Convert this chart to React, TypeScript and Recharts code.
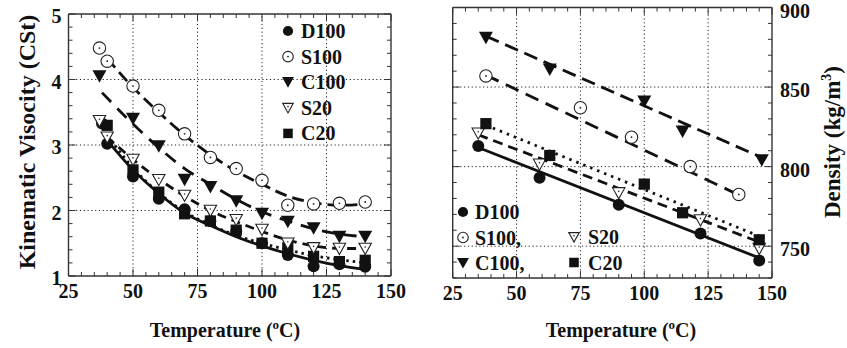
import React from 'react';
import { ComposedChart, Line, Scatter, XAxis, YAxis, ReferenceLine } from 'recharts';

const FONT = '"Liberation Serif", "Times New Roman", serif';
const INK = '#111';

// ---------- tick labels ----------
const tempTicks = [25, 50, 75, 100, 125, 150];
const viscTicks = [1, 2, 3, 4, 5];
const densTicks = [750, 800, 850, 900];
const tempGrid = [50, 75, 100, 125];
const viscGrid = [2, 3, 4];
const densGrid = [750, 800, 850];

const range = (a: number, b: number, s: number) => {
  const out: number[] = [];
  for (let v = a; v <= b + 1e-9; v += s) out.push(Math.round(v * 1000) / 1000);
  return out;
};
const tempMinor = range(25, 150, 5);
const viscMinor = range(1, 5, 0.2);
const densMinor = range(730, 900, 10);

// ---------- left panel: kinematic viscosity (points) ----------
const viscD100 = [
  { t: 38, v: 3.33 }, { t: 40, v: 3.02 }, { t: 50, v: 2.52 }, { t: 60, v: 2.18 }, { t: 70, v: 2.02 },
  { t: 80, v: 1.84 }, { t: 90, v: 1.68 }, { t: 100, v: 1.5 }, { t: 110, v: 1.32 }, { t: 120, v: 1.15 },
  { t: 130, v: 1.18 }, { t: 140, v: 1.14 },
];
const viscS100 = [
  { t: 37, v: 4.48 }, { t: 40, v: 4.28 }, { t: 50, v: 3.9 }, { t: 60, v: 3.53 }, { t: 70, v: 3.17 },
  { t: 80, v: 2.81 }, { t: 90, v: 2.64 }, { t: 100, v: 2.46 }, { t: 110, v: 2.08 }, { t: 120, v: 2.1 },
  { t: 130, v: 2.11 }, { t: 140, v: 2.13 },
];
const viscC100 = [
  { t: 37, v: 4.05 }, { t: 50, v: 3.4 }, { t: 60, v: 2.98 }, { t: 70, v: 2.47 }, { t: 80, v: 2.36 },
  { t: 90, v: 2.14 }, { t: 100, v: 1.95 }, { t: 110, v: 1.83 }, { t: 120, v: 1.73 }, { t: 130, v: 1.6 },
  { t: 140, v: 1.6 },
];
const viscS20 = [
  { t: 37, v: 3.37 }, { t: 40, v: 3.12 }, { t: 50, v: 2.78 }, { t: 60, v: 2.47 }, { t: 70, v: 2.23 },
  { t: 80, v: 2.0 }, { t: 90, v: 1.86 }, { t: 100, v: 1.71 }, { t: 110, v: 1.5 }, { t: 120, v: 1.43 },
  { t: 130, v: 1.42 }, { t: 140, v: 1.42 },
];
const viscC20 = [
  { t: 40, v: 3.3 }, { t: 50, v: 2.62 }, { t: 60, v: 2.28 }, { t: 70, v: 1.95 }, { t: 80, v: 1.84 },
  { t: 90, v: 1.7 }, { t: 100, v: 1.5 }, { t: 110, v: 1.43 }, { t: 120, v: 1.3 }, { t: 130, v: 1.22 },
  { t: 140, v: 1.24 },
];

// ---------- left panel: fitted curves ----------
const viscFitD100 = [
  { t: 40, v: 3.07 }, { t: 50, v: 2.62 }, { t: 60, v: 2.26 }, { t: 70, v: 1.96 }, { t: 80, v: 1.77 },
  { t: 90, v: 1.6 }, { t: 100, v: 1.46 }, { t: 110, v: 1.34 }, { t: 120, v: 1.24 }, { t: 130, v: 1.16 },
  { t: 140, v: 1.1 },
];
const viscFitS100 = [
  { t: 40, v: 4.32 }, { t: 50, v: 3.88 }, { t: 60, v: 3.5 }, { t: 70, v: 3.15 }, { t: 80, v: 2.85 },
  { t: 90, v: 2.6 }, { t: 100, v: 2.4 }, { t: 110, v: 2.22 }, { t: 120, v: 2.12 }, { t: 130, v: 2.08 },
  { t: 140, v: 2.1 },
];
const viscFitC100 = [
  { t: 38, v: 3.8 }, { t: 50, v: 3.32 }, { t: 60, v: 2.96 }, { t: 70, v: 2.64 }, { t: 80, v: 2.4 },
  { t: 90, v: 2.17 }, { t: 100, v: 1.98 }, { t: 110, v: 1.84 }, { t: 120, v: 1.72 }, { t: 130, v: 1.64 },
  { t: 140, v: 1.6 },
];
const viscFitS20 = [
  { t: 40, v: 3.12 }, { t: 50, v: 2.78 }, { t: 60, v: 2.48 }, { t: 70, v: 2.22 }, { t: 80, v: 2.0 },
  { t: 90, v: 1.83 }, { t: 100, v: 1.68 }, { t: 110, v: 1.55 }, { t: 120, v: 1.46 }, { t: 130, v: 1.42 },
  { t: 140, v: 1.42 },
];
const viscFitC20 = [
  { t: 40, v: 3.15 }, { t: 50, v: 2.65 }, { t: 60, v: 2.27 }, { t: 70, v: 1.98 }, { t: 80, v: 1.78 },
  { t: 90, v: 1.62 }, { t: 100, v: 1.5 }, { t: 110, v: 1.4 }, { t: 120, v: 1.31 }, { t: 130, v: 1.25 },
  { t: 140, v: 1.2 },
];

// ---------- right panel: density (points) ----------
const densD100 = [{ t: 35, v: 813 }, { t: 59, v: 793 }, { t: 90, v: 776 }, { t: 122, v: 758 }, { t: 145, v: 741 }];
const densS100 = [{ t: 38, v: 857 }, { t: 75, v: 837 }, { t: 95, v: 818.5 }, { t: 118, v: 800 }, { t: 137, v: 782.5 }];
const densC100 = [{ t: 38, v: 881 }, { t: 63, v: 861 }, { t: 100, v: 841 }, { t: 115, v: 822 }, { t: 146, v: 804 }];
const densS20 = [{ t: 35, v: 821 }, { t: 59, v: 801.5 }, { t: 90, v: 783.5 }, { t: 122, v: 766.5 }, { t: 145, v: 748.5 }];
const densC20 = [{ t: 38, v: 827 }, { t: 63, v: 807 }, { t: 100, v: 789 }, { t: 115, v: 771 }, { t: 145, v: 754 }];

// ---------- right panel: fitted lines ----------
const densFitD100 = [{ t: 35, v: 812 }, { t: 146, v: 742 }];
const densFitS100 = [{ t: 38, v: 857.5 }, { t: 136, v: 783 }];
const densFitC100 = [{ t: 38, v: 882 }, { t: 147, v: 805 }];
const densFitS20 = [{ t: 35, v: 820 }, { t: 146, v: 752 }];
const densFitC20 = [{ t: 38, v: 826 }, { t: 147, v: 755 }];

// ---------- legends ----------
const leftLegend = [
  { kind: 'fc', label: 'D100' },
  { kind: 'oc', label: 'S100' },
  { kind: 'ft', label: 'C100' },
  { kind: 'ot', label: 'S20' },
  { kind: 'fs', label: 'C20' },
];
const rightLegendCol1 = [
  { kind: 'fc', label: 'D100' },
  { kind: 'oc', label: 'S100,' },
  { kind: 'ft', label: 'C100,' },
];
const rightLegendCol2 = [
  { kind: 'ot', label: 'S20' },
  { kind: 'fs', label: 'C20' },
];

function Marker({ kind, cx, cy, s = 1 }: { kind: string; cx: number; cy: number; s?: number }) {
  if (cx == null || cy == null) return null;
  switch (kind) {
    case 'fc':
      return <circle cx={cx} cy={cy} r={6 * s} fill={INK} />;
    case 'oc':
      return (
        <g>
          <circle cx={cx} cy={cy} r={6.2 * s} fill="#fff" stroke="#222" strokeWidth={1.1} />
          <circle cx={cx} cy={cy} r={0.9} fill="#222" />
        </g>
      );
    case 'ft':
      return (
        <polygon
          points={`${cx - 7 * s},${cy - 6 * s} ${cx + 7 * s},${cy - 6 * s} ${cx},${cy + 6.5 * s}`}
          fill={INK}
        />
      );
    case 'ot':
      return (
        <g>
          <polygon
            points={`${cx - 6.2 * s},${cy - 5.2 * s} ${cx + 6.2 * s},${cy - 5.2 * s} ${cx},${cy + 6 * s}`}
            fill="#fff"
            stroke="#222"
            strokeWidth={1.1}
          />
          <circle cx={cx} cy={cy - 1.5 * s} r={0.8} fill="#222" />
        </g>
      );
    case 'fs':
      return <rect x={cx - 5.6 * s} y={cy - 5.6 * s} width={11.2 * s} height={11.2 * s} fill={INK} />;
    default:
      return null;
  }
}

const shapeOf = (kind: string) => (p: any) => <Marker kind={kind} cx={p.cx} cy={p.cy} />;

const isIn = (arr: number[], v: number) => arr.some((m) => Math.abs(m - v) < 1e-6);

const tickText = { fontFamily: FONT, fontWeight: 700, fontSize: 20 } as const;

function makeTick(side: 'bottom' | 'top' | 'left' | 'right', majors: number[], showLabel: boolean) {
  return (props: any) => {
    const { x, y, payload } = props;
    const v = payload.value;
    const major = isIn(majors, v);
    const len = major ? 7 : 4;
    let line = null;
    let label = null;
    if (side === 'bottom') {
      line = <line x1={x} y1={y} x2={x} y2={y - len} stroke="#333" strokeWidth={1} />;
      if (showLabel && major)
        label = (
          <text x={x} y={y + 22} textAnchor="middle" style={tickText} fill={INK}>
            {v}
          </text>
        );
    } else if (side === 'top') {
      line = <line x1={x} y1={y} x2={x} y2={y + len} stroke="#333" strokeWidth={1} />;
    } else if (side === 'left') {
      line = <line x1={x} y1={y} x2={x + len} y2={y} stroke="#333" strokeWidth={1} />;
      if (showLabel && major)
        label = (
          <text x={x - 7} y={y + 9} textAnchor="end" style={tickText} fill={INK}>
            {v}
          </text>
        );
    } else {
      line = <line x1={x} y1={y} x2={x - len} y2={y} stroke="#333" strokeWidth={1} />;
      if (showLabel && major)
        label = (
          <text x={x + 8} y={y + 10} textAnchor="start" style={tickText} fill={INK}>
            {v}
          </text>
        );
    }
    return (
      <g>
        {line}
        {label}
      </g>
    );
  };
}

const axisLine = { stroke: '#333', strokeWidth: 1.4 };
const gridStroke = { stroke: '#222', strokeWidth: 1, strokeDasharray: '1.2 2.6' };

export default function App() {
  const LW = 2.8;
  return (
    <div style={{ position: 'absolute', left: 0, top: 0, width: 847, height: 348, background: '#fff', fontFamily: FONT }}>
      {/* Left panel */}
      <div style={{ position: 'absolute', left: 0, top: 0 }}>
        <ComposedChart width={420} height={348} margin={{ top: 13, right: 28, bottom: 71, left: 67.5 }}>
          <XAxis xAxisId="b" dataKey="t" type="number" domain={[25, 150]} allowDataOverflow ticks={tempMinor} interval={0}
            orientation="bottom" height={1} tickSize={0} tickMargin={0} tickLine={false} axisLine={axisLine}
            tick={makeTick('bottom', tempTicks, true)} />
          <XAxis xAxisId="t" dataKey="t" type="number" domain={[25, 150]} allowDataOverflow ticks={tempMinor} interval={0}
            orientation="top" height={1} tickSize={0} tickMargin={0} tickLine={false} axisLine={axisLine}
            tick={makeTick('top', tempTicks, false)} />
          <YAxis yAxisId="l" dataKey="v" type="number" domain={[1, 5]} allowDataOverflow ticks={viscMinor} interval={0}
            orientation="left" width={1} tickSize={0} tickMargin={0} tickLine={false} axisLine={axisLine}
            tick={makeTick('left', viscTicks, true)} />
          <YAxis yAxisId="r" dataKey="v" type="number" domain={[1, 5]} allowDataOverflow ticks={viscMinor} interval={0}
            orientation="right" width={1} tickSize={0} tickMargin={0} tickLine={false} axisLine={axisLine}
            tick={makeTick('right', viscTicks, false)} />
          {tempGrid.map((g) => (
            <ReferenceLine key={'vx' + g} x={g} xAxisId="b" yAxisId="l" {...gridStroke} />
          ))}
          {viscGrid.map((g) => (
            <ReferenceLine key={'vy' + g} y={g} xAxisId="b" yAxisId="l" {...gridStroke} />
          ))}
          <Line xAxisId="b" yAxisId="l" data={viscFitS100} dataKey="v" type="monotone" stroke={INK} strokeWidth={LW} strokeDasharray="12 6" dot={false} activeDot={false} isAnimationActive={false} />
          <Line xAxisId="b" yAxisId="l" data={viscFitC100} dataKey="v" type="monotone" stroke={INK} strokeWidth={LW} strokeDasharray="13 9" dot={false} activeDot={false} isAnimationActive={false} />
          <Line xAxisId="b" yAxisId="l" data={viscFitS20} dataKey="v" type="monotone" stroke={INK} strokeWidth={LW} strokeDasharray="9 6" dot={false} activeDot={false} isAnimationActive={false} />
          <Line xAxisId="b" yAxisId="l" data={viscFitC20} dataKey="v" type="monotone" stroke={INK} strokeWidth={LW} strokeDasharray="2.5 4" dot={false} activeDot={false} isAnimationActive={false} />
          <Line xAxisId="b" yAxisId="l" data={viscFitD100} dataKey="v" type="monotone" stroke={INK} strokeWidth={LW} dot={false} activeDot={false} isAnimationActive={false} />
          <Scatter xAxisId="b" yAxisId="l" data={viscS100} dataKey="v" shape={shapeOf('oc')} isAnimationActive={false} />
          <Scatter xAxisId="b" yAxisId="l" data={viscC100} dataKey="v" shape={shapeOf('ft')} isAnimationActive={false} />
          <Scatter xAxisId="b" yAxisId="l" data={viscD100} dataKey="v" shape={shapeOf('fc')} isAnimationActive={false} />
          <Scatter xAxisId="b" yAxisId="l" data={viscC20} dataKey="v" shape={shapeOf('fs')} isAnimationActive={false} />
          <Scatter xAxisId="b" yAxisId="l" data={viscS20} dataKey="v" shape={shapeOf('ot')} isAnimationActive={false} />
        </ComposedChart>
      </div>

      {/* Right panel */}
      <div style={{ position: 'absolute', left: 420, top: 0 }}>
        <ComposedChart width={427} height={348} margin={{ top: 6.5, right: 74, bottom: 69, left: 31.7 }}>
          <XAxis xAxisId="b" dataKey="t" type="number" domain={[25, 150]} allowDataOverflow ticks={tempMinor} interval={0}
            orientation="bottom" height={1} tickSize={0} tickMargin={0} tickLine={false} axisLine={axisLine}
            tick={makeTick('bottom', tempTicks, true)} />
          <XAxis xAxisId="t" dataKey="t" type="number" domain={[25, 150]} allowDataOverflow ticks={tempMinor} interval={0}
            orientation="top" height={1} tickSize={0} tickMargin={0} tickLine={false} axisLine={axisLine}
            tick={makeTick('top', tempTicks, false)} />
          <YAxis yAxisId="l" dataKey="v" type="number" domain={[730, 900]} allowDataOverflow ticks={densMinor} interval={0}
            orientation="left" width={1} tickSize={0} tickMargin={0} tickLine={false} axisLine={axisLine}
            tick={makeTick('left', densTicks, false)} />
          <YAxis yAxisId="r" dataKey="v" type="number" domain={[730, 900]} allowDataOverflow ticks={densMinor} interval={0}
            orientation="right" width={1} tickSize={0} tickMargin={0} tickLine={false} axisLine={axisLine}
            tick={makeTick('right', densTicks, true)} />
          {tempGrid.map((g) => (
            <ReferenceLine key={'dx' + g} x={g} xAxisId="b" yAxisId="l" {...gridStroke} />
          ))}
          {densGrid.map((g) => (
            <ReferenceLine key={'dy' + g} y={g} xAxisId="b" yAxisId="l" {...gridStroke} />
          ))}
          <Line xAxisId="b" yAxisId="l" data={densFitC100} dataKey="v" type="linear" stroke={INK} strokeWidth={LW} strokeDasharray="14 7" dot={false} activeDot={false} isAnimationActive={false} />
          <Line xAxisId="b" yAxisId="l" data={densFitS100} dataKey="v" type="linear" stroke={INK} strokeWidth={LW} strokeDasharray="14 8" dot={false} activeDot={false} isAnimationActive={false} />
          <Line xAxisId="b" yAxisId="l" data={densFitS20} dataKey="v" type="linear" stroke={INK} strokeWidth={LW} strokeDasharray="10 6" dot={false} activeDot={false} isAnimationActive={false} />
          <Line xAxisId="b" yAxisId="l" data={densFitC20} dataKey="v" type="linear" stroke={INK} strokeWidth={LW} strokeDasharray="2.5 5" dot={false} activeDot={false} isAnimationActive={false} />
          <Line xAxisId="b" yAxisId="l" data={densFitD100} dataKey="v" type="linear" stroke={INK} strokeWidth={LW} dot={false} activeDot={false} isAnimationActive={false} />
          <Scatter xAxisId="b" yAxisId="l" data={densC100} dataKey="v" shape={shapeOf('ft')} isAnimationActive={false} />
          <Scatter xAxisId="b" yAxisId="l" data={densS100} dataKey="v" shape={shapeOf('oc')} isAnimationActive={false} />
          <Scatter xAxisId="b" yAxisId="l" data={densD100} dataKey="v" shape={shapeOf('fc')} isAnimationActive={false} />
          <Scatter xAxisId="b" yAxisId="l" data={densS20} dataKey="v" shape={shapeOf('ot')} isAnimationActive={false} />
          <Scatter xAxisId="b" yAxisId="l" data={densC20} dataKey="v" shape={shapeOf('fs')} isAnimationActive={false} />
        </ComposedChart>
      </div>

      {/* Titles and legends */}
      <svg width={847} height={348} style={{ position: 'absolute', left: 0, top: 0, pointerEvents: 'none' }}>
        <g fontFamily={FONT} fontWeight="bold" fill={INK}>
          <text x={225} y={337} fontSize={20} textAnchor="middle">
            Temperature (<tspan fontSize={13} dy={-8}>o</tspan><tspan dy={8}>C)</tspan>
          </text>
          <text x={621} y={337} fontSize={20} textAnchor="middle">
            Temperature (<tspan fontSize={13} dy={-8}>o</tspan><tspan dy={8}>C)</tspan>
          </text>
          <text transform="translate(35,142) rotate(-90)" fontSize={24} textAnchor="middle">
            Kinematic Visocity (CSt)
          </text>
          <text transform="translate(840,142) rotate(-90)" fontSize={23} textAnchor="middle">
            Density (kg/m<tspan fontSize={14} dy={-9}>3</tspan><tspan dy={9}>)</tspan>
          </text>
          {leftLegend.map((e, i) => (
            <g key={'ll' + i}>
              <Marker kind={e.kind} cx={288} cy={31 + i * 25.6} s={0.85} />
              <text x={301} y={31 + i * 25.6 + 7} fontSize={20}>{e.label}</text>
            </g>
          ))}
          {rightLegendCol1.map((e, i) => (
            <g key={'r1' + i}>
              <Marker kind={e.kind} cx={463} cy={212 + i * 25.5} s={0.85} />
              <text x={475} y={212 + i * 25.5 + 7} fontSize={20}>{e.label}</text>
            </g>
          ))}
          {rightLegendCol2.map((e, i) => (
            <g key={'r2' + i}>
              <Marker kind={e.kind} cx={574} cy={237 + i * 25.5} s={0.85} />
              <text x={588} y={237 + i * 25.5 + 7} fontSize={20}>{e.label}</text>
            </g>
          ))}
        </g>
      </svg>
    </div>
  );
}
